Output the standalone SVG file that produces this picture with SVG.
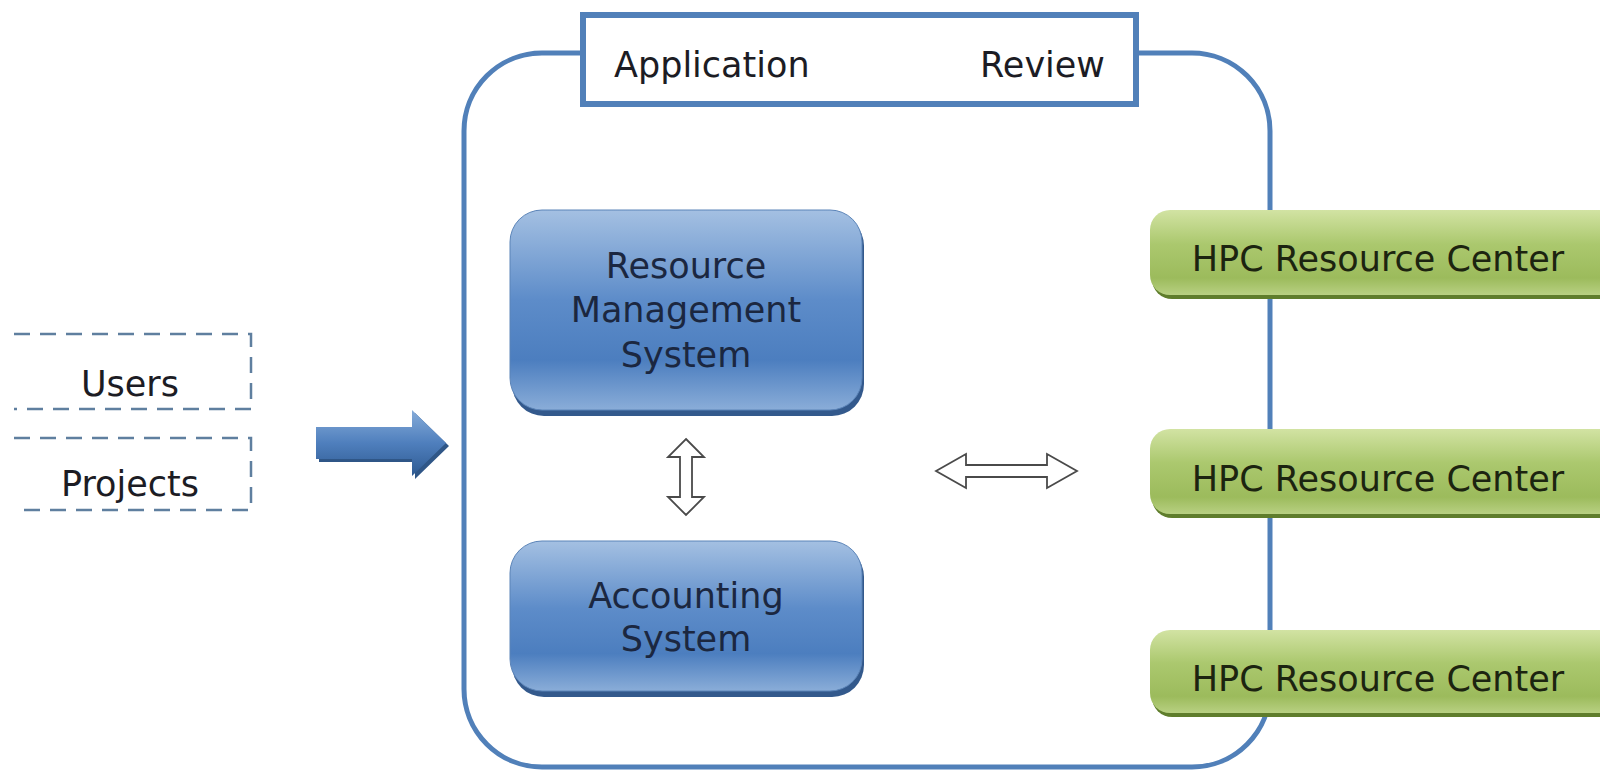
<svg xmlns="http://www.w3.org/2000/svg" width="1600" height="772" viewBox="0 0 1600 772">
  <style>
    .lbl { font-family: "DejaVu Sans", Verdana, sans-serif; font-size: 35px; fill: #1c1c24; }
    .sys { font-family: "DejaVu Sans", Verdana, sans-serif; font-size: 35px; fill: #1b2740; text-anchor: middle; }
    .hpc { font-family: "DejaVu Sans", Verdana, sans-serif; font-size: 35px; fill: #1c2410; text-anchor: middle; }
    .frame { fill: none; stroke: #5180b9; stroke-width: 5; }
    .dash { fill: none; stroke: #5f7f9f; stroke-width: 2.5; stroke-dasharray: 16 10; }
    .hollow { fill: #ffffff; stroke: #4a4a4a; stroke-width: 1.8; stroke-linejoin: miter; }
  </style>
  <defs>
    <linearGradient id="blueFill" x1="0" y1="0" x2="0" y2="1">
      <stop offset="0" stop-color="#a4c0e2"/>
      <stop offset="0.45" stop-color="#5d8cc9"/>
      <stop offset="0.75" stop-color="#4c7ebf"/>
      <stop offset="1" stop-color="#8aadd8"/>
    </linearGradient>
    <linearGradient id="greenFill" x1="0" y1="0" x2="0" y2="1">
      <stop offset="0" stop-color="#d2e3a3"/>
      <stop offset="0.4" stop-color="#abc86e"/>
      <stop offset="0.8" stop-color="#9cbb5c"/>
      <stop offset="1" stop-color="#b8d082"/>
    </linearGradient>
    <linearGradient id="arrowFill" x1="0" y1="0" x2="0" y2="1">
      <stop offset="0" stop-color="#86acd9"/>
      <stop offset="0.5" stop-color="#4f7fbd"/>
      <stop offset="1" stop-color="#2e5a92"/>
    </linearGradient>
  </defs>

  <rect width="1600" height="772" fill="#ffffff"/>

  <!-- outer frame with its caption bar -->
  <g id="frame">
    <rect class="frame" x="464" y="53" width="806" height="714" rx="78" ry="78"/>
  </g>
  <g id="caption">
    <rect x="583" y="15" width="553" height="89" fill="#ffffff" stroke="#5180b9" stroke-width="6"/>
    <text class="lbl" x="614" y="77">Application</text>
    <text class="lbl" x="1105" y="77" text-anchor="end">Review</text>
  </g>

  <!-- inputs -->
  <g id="users">
    <path class="dash" d="M14 334 H251 V409 H14"/>
    <text class="lbl" x="130" y="396" text-anchor="middle">Users</text>
  </g>
  <g id="projects">
    <path class="dash" d="M14 438 H251 V510 H14"/>
    <text class="lbl" x="130" y="496" text-anchor="middle">Projects</text>
  </g>

  <!-- connectors -->
  <g id="connectors">
    <polygon points="319,430 415,430 415,413 449,446 415,479 415,462 319,462" fill="#2f5687"/>
    <polygon points="316,427 412,427 412,410 446,443 412,476 412,459 316,459" fill="url(#arrowFill)"/>
    <polygon class="hollow" points="686,439 704,457 692,457 692,497 704,497 686,515 668,497 680,497 680,457 668,457"/>
    <polygon class="hollow" points="936,471 966,454 966,465 1047,465 1047,454 1077,471 1047,488 1047,477 966,477 966,488"/>
  </g>

  <!-- core systems -->
  <g id="rms">
    <rect x="512" y="214" width="352" height="202" rx="32" fill="#33598c"/>
    <rect x="510" y="210" width="352" height="200" rx="32" fill="url(#blueFill)" stroke="#5b84b8" stroke-width="1"/>
    <text class="sys" x="686" y="278">Resource</text>
    <text class="sys" x="686" y="322">Management</text>
    <text class="sys" x="686" y="367">System</text>
  </g>
  <g id="accounting">
    <rect x="512" y="545" width="352" height="152" rx="32" fill="#33598c"/>
    <rect x="510" y="541" width="352" height="150" rx="32" fill="url(#blueFill)" stroke="#5b84b8" stroke-width="1"/>
    <text class="sys" x="686" y="608">Accounting</text>
    <text class="sys" x="686" y="651">System</text>
  </g>

  <!-- resource centers -->
  <g id="hpc1">
    <rect x="1152" y="213" width="470" height="86" rx="20" fill="#5f7d2c"/>
    <rect x="1150" y="210" width="470" height="85" rx="20" fill="url(#greenFill)"/>
    <text class="hpc" x="1378" y="271">HPC Resource Center</text>
  </g>
  <g id="hpc2">
    <rect x="1152" y="432" width="470" height="86" rx="20" fill="#5f7d2c"/>
    <rect x="1150" y="429" width="470" height="85" rx="20" fill="url(#greenFill)"/>
    <text class="hpc" x="1378" y="491">HPC Resource Center</text>
  </g>
  <g id="hpc3">
    <rect x="1152" y="633" width="470" height="84" rx="20" fill="#5f7d2c"/>
    <rect x="1150" y="630" width="470" height="83" rx="20" fill="url(#greenFill)"/>
    <text class="hpc" x="1378" y="691">HPC Resource Center</text>
  </g>
</svg>
